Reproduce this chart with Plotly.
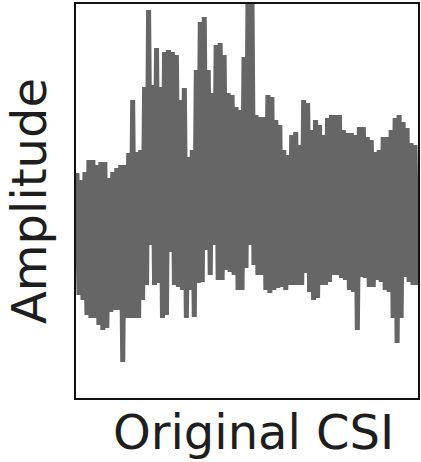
import plotly.graph_objects as go

# Upper envelope (peak) amplitudes, left to right
peaks = [225, 218, 226, 238, 238, 233, 236, 236, 220, 226, 230, 233, 233, 245, 298, 246,
         248, 311, 388, 313, 350, 311, 346, 348, 346, 343, 298, 310, 241, 248, 328, 376,
         381, 328, 305, 353, 355, 343, 305, 303, 291, 288, 341, 400, 398, 283, 281, 281,
         303, 301, 278, 273, 248, 243, 263, 266, 253, 298, 295, 268, 278, 273, 263, 280,
         283, 283, 283, 268, 265, 265, 263, 271, 271, 261, 258, 246, 248, 261, 261, 268,
         280, 283, 276, 270, 255, 253]
# Lower envelope (trough) amplitudes, left to right
troughs = [103, 98, 83, 80, 80, 73, 68, 70, 86, 88, 88, 36, 80, 80, 80, 80,
           98, 113, 153, 113, 115, 80, 83, 146, 113, 111, 108, 80, 108, 81, 115, 116,
           148, 123, 153, 118, 118, 128, 126, 123, 108, 108, 130, 153, 133, 123, 123, 108,
           105, 108, 110, 111, 108, 113, 113, 113, 113, 125, 106, 98, 100, 113, 113, 116,
           123, 123, 120, 118, 108, 106, 68, 121, 120, 111, 111, 118, 116, 108, 106, 80,
           55, 80, 121, 116, 113, 113]

amplitude = []
for p, t in zip(peaks, troughs):
    amplitude.append(p)
    amplitude.append(t)
samples = list(range(len(amplitude)))

fig = go.Figure()
fig.add_trace(go.Scatter(
    x=samples, y=amplitude, mode="lines",
    line=dict(color="#666666", width=5),
    showlegend=False, hoverinfo="skip",
))

font = dict(family="DejaVu Sans", size=48, color="#1e1e1e")
fig.update_layout(
    width=421, height=462,
    margin=dict(l=76, r=1, t=4, b=64),
    paper_bgcolor="white", plot_bgcolor="white",
    xaxis=dict(range=[-0.5, len(amplitude) - 0.5], showticklabels=False, ticks="",
               showgrid=False, zeroline=False, showline=True, mirror=True,
               linecolor="#111111", linewidth=2),
    yaxis=dict(range=[0, 394], showticklabels=False, ticks="",
               showgrid=False, zeroline=False, showline=True, mirror=True,
               linecolor="#111111", linewidth=2,
               title=dict(text="Amplitude", font=font, standoff=12)),
    annotations=[dict(text="Original CSI", font=font, xref="paper", yref="paper",
                      x=0.52, y=0, xanchor="center", yanchor="top",
                      yshift=-4, showarrow=False)],
)

fig.write_html("out.html")
